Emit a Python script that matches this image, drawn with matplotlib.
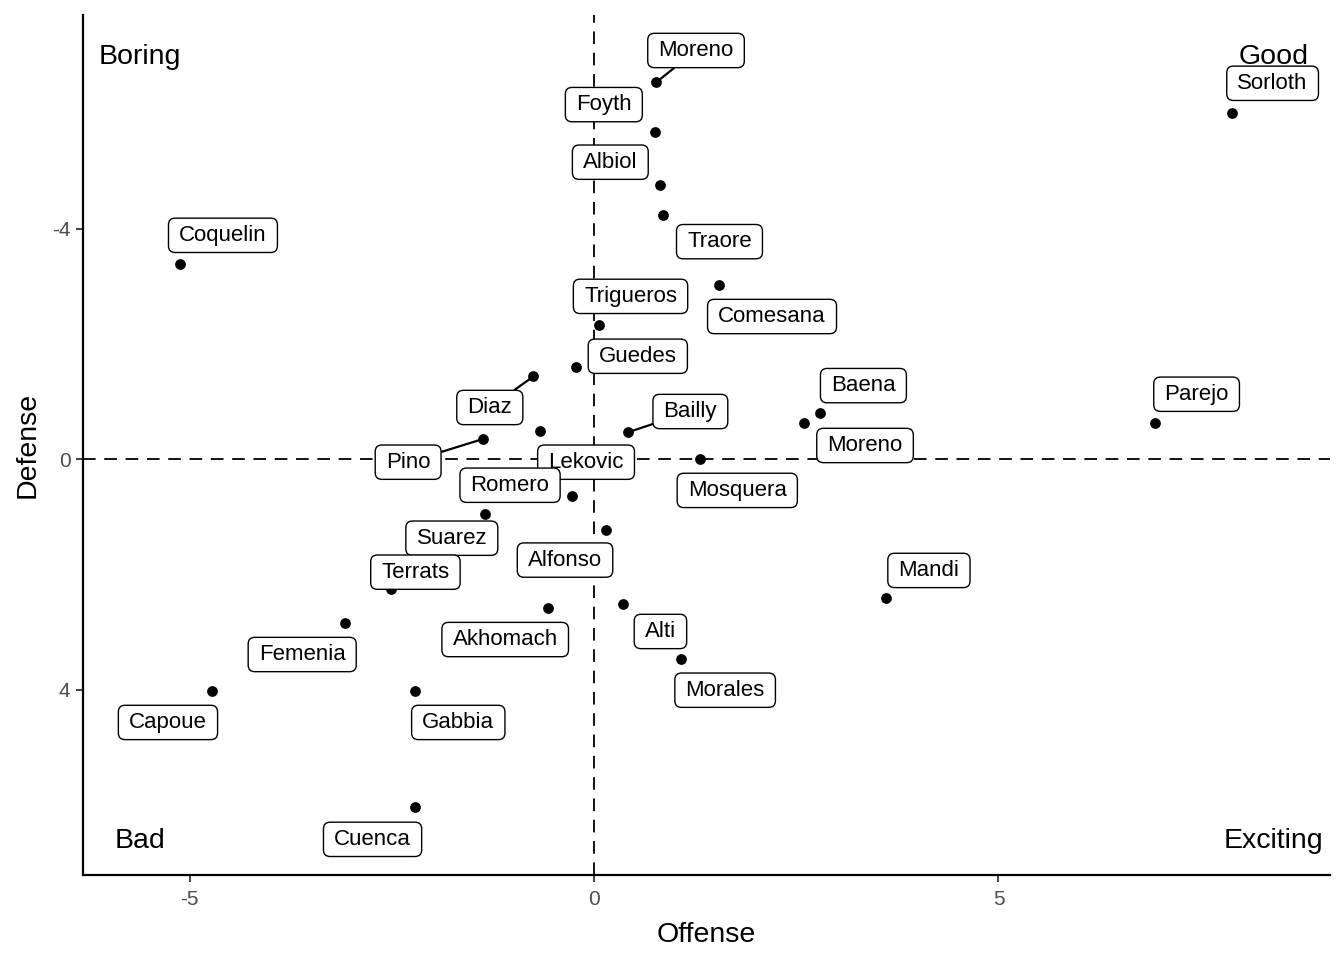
import matplotlib
matplotlib.use("Agg")
import matplotlib.pyplot as plt
from matplotlib.patches import BoxStyle

plt.rcParams['font.family'] = ['Liberation Sans', 'DejaVu Sans']
plt.rcParams['axes.unicode_minus'] = False

# player values (Offense, Defense)
players = ['Moreno', 'Foyth', 'Albiol', 'Traore', 'Sorloth', 'Coquelin', 'Trigueros',
           'Comesana', 'Guedes', 'Diaz', 'Baena', 'Moreno', 'Parejo', 'Bailly', 'Pino',
           'Lekovic', 'Romero', 'Mosquera', 'Suarez', 'Alfonso', 'Mandi', 'Terrats',
           'Akhomach', 'Alti', 'Femenia', 'Morales', 'Capoue', 'Gabbia', 'Cuenca']
offense = [0.77, 0.75, 0.82, 0.85, 7.89, -5.12, 0.06, 1.55, -0.23, -0.75, 2.79, 2.60,
           6.93, 0.42, -1.38, -0.67, -0.27, 1.31, -1.35, 0.15, 3.61, -2.51, -0.57,
           0.36, -3.08, 1.08, -4.73, -2.21, -2.21]
defense = [-6.55, -5.69, -4.76, -4.25, -6.02, -3.39, -2.33, -3.02, -1.60, -1.44, -0.80,
           -0.63, -0.63, -0.47, -0.35, -0.49, 0.63, 0.00, 0.95, 1.22, 2.41, 2.26, 2.59,
           2.52, 2.85, 3.47, 4.03, 4.03, 6.04]
# where the repelled labels ended up
label_x = [1.26, 0.12, 0.20, 1.55, 8.39, -4.59, 0.45, 2.20, 0.54, -1.29, 3.33, 3.35,
           7.45, 1.19, -2.30, -0.10, -1.04, 1.77, -1.76, -0.36, 4.14, -2.21, -1.10,
           0.82, -3.61, 1.62, -5.27, -1.68, -2.74]
label_y = [-7.10, -6.16, -5.16, -3.78, -6.53, -3.89, -2.83, -2.48, -1.79, -0.90, -1.28,
           -0.24, -1.13, -0.83, 0.05, 0.05, 0.45, 0.54, 1.37, 1.75, 1.93, 1.96, 3.13,
           2.99, 3.39, 4.01, 4.57, 4.57, 6.60]
# labels that got a leader segment (first Moreno, Diaz, Bailly, Pino)
with_segment = [0, 9, 13, 14]

quadrants = ['Boring', 'Good', 'Bad', 'Exciting']
quad_x = [-5.62, 8.40, -5.62, 8.40]
quad_y = [-6.98, -6.98, 6.63, 6.63]


class LabelBox(BoxStyle.Round):
    # round box with a bit more room left and right, like ggrepel's labels
    def __call__(self, x0, y0, width, height, mutation_size):
        extra = 0.18 * mutation_size
        return super().__call__(x0 - extra, y0, width + 2 * extra, height, mutation_size)


fig = plt.figure(figsize=(13.44, 9.6), dpi=100)
ax = fig.add_axes([0.0618, 0.0885, 0.9278, 0.8955])

ax.axhline(0, color='black', lw=1.3, dashes=(7, 4.8), zorder=1)
ax.axvline(0, color='black', lw=1.3, dashes=(7, 4.8), zorder=1)
ax.scatter(offense, defense, s=60, color='black', zorder=2, linewidths=0)

for i, name in enumerate(players):
    arrow = None
    if i in with_segment:
        arrow = dict(arrowstyle='-', lw=1.6, color='black', shrinkA=0, shrinkB=3)
    ax.annotate(name, xy=(offense[i], defense[i]), xytext=(label_x[i], label_y[i]),
                textcoords='data', ha='center', va='center', fontsize=16, zorder=4,
                bbox=dict(boxstyle=LabelBox(pad=0.3, rounding_size=0.3), fc='white',
                          ec='black', lw=1.0),
                arrowprops=arrow)

for q, qx, qy in zip(quadrants, quad_x, quad_y):
    ax.text(qx, qy, q, ha='center', va='center', fontsize=20.5, zorder=3)

ax.set_xlim(-6.32, 9.10)
ax.set_ylim(7.22, -7.71)
ax.set_xticks([-5, 0, 5])
ax.set_yticks([-4, 0, 4])
ax.set_xlabel('Offense', fontsize=20.5, labelpad=9)
ax.set_ylabel('Defense', fontsize=20.5, labelpad=8)

for s in ['top', 'right']:
    ax.spines[s].set_visible(False)
for s in ['left', 'bottom']:
    ax.spines[s].set_linewidth(1.6)
ax.tick_params(axis='both', labelsize=15, labelcolor='#4D4D4D', color='#333333',
               length=5, width=1.3)
ax.tick_params(axis='x', pad=6)
ax.tick_params(axis='y', pad=4)

fig.savefig('out.png', dpi=100)
